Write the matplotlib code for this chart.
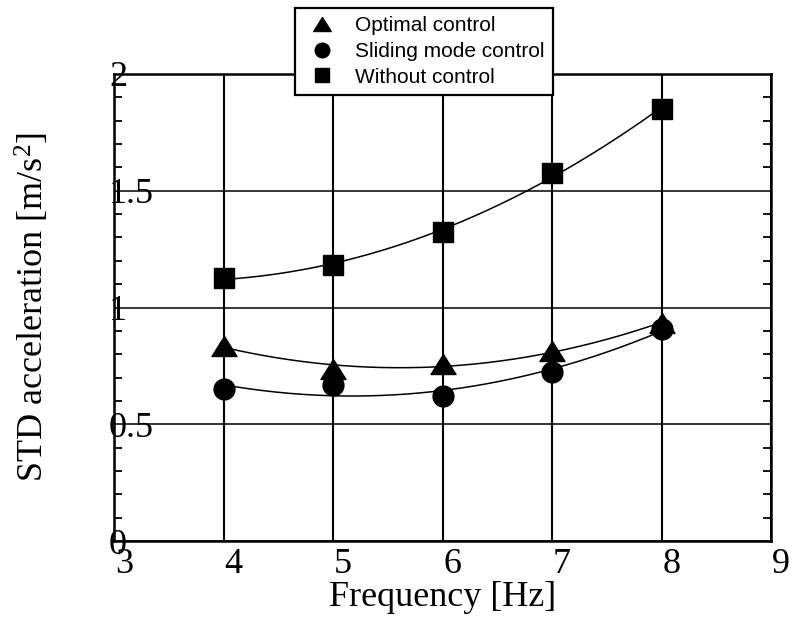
import numpy as np
import matplotlib
matplotlib.use("Agg")
import matplotlib.pyplot as plt
from matplotlib.transforms import ScaledTranslation

freq = [4, 5, 6, 7, 8]
optimal = [0.837, 0.737, 0.756, 0.814, 0.932]
sliding = [0.650, 0.668, 0.621, 0.722, 0.910]
without = [1.125, 1.182, 1.325, 1.577, 1.849]

labels = ["Optimal control", "Sliding mode control", "Without control"]

plt.rcParams['font.family'] = ['Liberation Serif', 'DejaVu Serif']
plt.rcParams['mathtext.fontset'] = 'custom'
plt.rcParams['mathtext.rm'] = 'Liberation Serif'
plt.rcParams['mathtext.it'] = 'Liberation Serif'

fig = plt.figure(figsize=(7.94, 6.37), dpi=100)
ax = fig.add_axes([114/794, 1 - 541/637, (771 - 114)/794, (541 - 74)/637])

tri = [(0, 0.8), (-1, -0.8), (1, -0.8), (0, 0.8)]
styles = [(tri, 18), ('o', 15), ('s', 13.7)]

xs = np.linspace(4, 8, 200)
handles = []
for vals, (mk, ms) in zip([optimal, sliding, without], styles):
    coef = np.polyfit(freq, vals, 2)
    ax.plot(xs, np.polyval(coef, xs), color='black', lw=1.1, zorder=3)
    h, = ax.plot(freq, vals, linestyle='none', marker=mk, markersize=ms,
                 color='black', zorder=4)
    handles.append(h)

ax.set_xlim(3, 9)
ax.set_ylim(0, 2)
ax.set_xticks(range(3, 10))
ax.set_yticks([0, 0.5, 1, 1.5, 2])
ax.set_yticklabels(['0', '0.5', '1', '1.5', '2'])
ax.set_yticks(np.arange(0, 2.01, 0.1), minor=True)

ax.grid(True, axis='x', color='black', lw=1.5, zorder=1)
ax.grid(True, axis='y', color='black', lw=1.1, zorder=1)
for s in ax.spines.values():
    s.set_linewidth(1.8)

ax.tick_params(which='major', direction='in', length=0, labelsize=26)
ax.tick_params(axis='x', pad=5)
ax.tick_params(axis='y', pad=3.6)
ax.tick_params(axis='y', which='minor', direction='in', length=5.5, width=1.3,
               left=True, right=True)
for lab in ax.get_yticklabels():
    lab.set_horizontalalignment('left')
for lab in ax.get_xticklabels():
    lab.set_transform(lab.get_transform() + ScaledTranslation(0.10, 0, fig.dpi_scale_trans))

ax.set_xlabel("Frequency [Hz]", fontsize=26, labelpad=0)
fig.text(33/794, 1 - 307/637, "STD acceleration [m/s$^2$]", fontsize=26,
         rotation=90, ha='center', va='center')

leg = fig.legend(handles, labels, loc='upper left',
                 bbox_to_anchor=(295/794, 1 - 8/637),
                 prop={'family': ['Liberation Sans', 'DejaVu Sans'], 'size': 15},
                 frameon=True, fancybox=False, edgecolor='black',
                 framealpha=1, labelspacing=0.32, handlelength=1.8,
                 handletextpad=0.7, borderpad=0.4, borderaxespad=0,
                 markerscale=0.7)
leg.get_frame().set_linewidth(1.6)
leg.set_zorder(10)

fig.savefig("out.png", dpi=100)
